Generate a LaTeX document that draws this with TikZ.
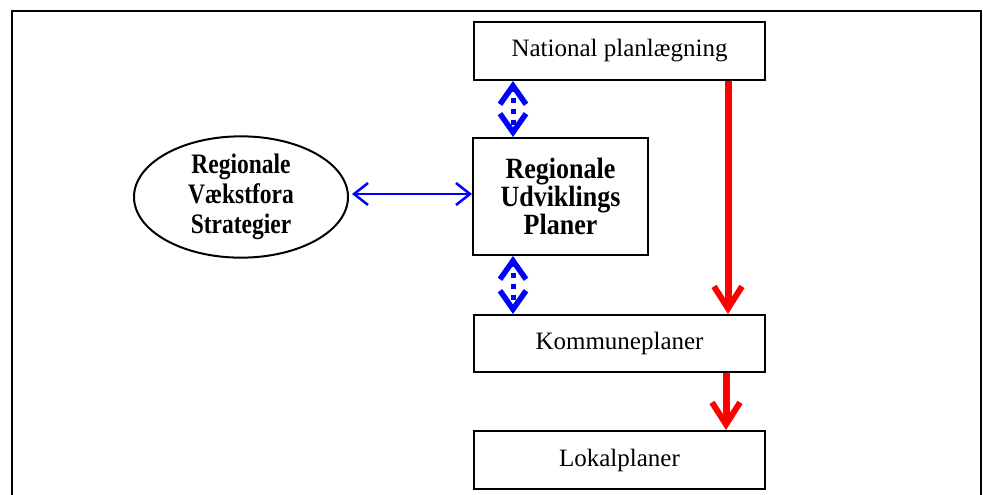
\documentclass[tikz,border=0pt]{standalone}
\usepackage{fontspec}
\setmainfont{Liberation Serif}
\usetikzlibrary{arrows.meta,shapes.geometric}
\newcommand{\tallbox}[1]{\scalebox{1}[1.13]{#1}}
\newcommand{\tallell}[1]{\scalebox{1}[1.2]{#1}}
\tikzset{
  box/.style={draw=black, line width=2pt, fill=white, inner sep=0pt, align=center,
    font=\fontsize{25}{30}\selectfont},
  bbox/.style={box, font=\fontsize{26}{28}\selectfont\bfseries},
  redarrow/.style={draw=red, line width=7pt, -{Straight Barb[length=22pt,width=28pt,line width=6pt]}},
  bluedot/.style={draw=blue, line width=5pt, dash pattern=on 5pt off 6pt, dash phase=2pt,
    {Straight Barb[length=18.5pt,width=26pt,line width=5.5pt]}-{Straight Barb[length=18.5pt,width=26pt,line width=5.5pt]}},
  bluethin/.style={draw=blue, line width=2.5pt,
    {Straight Barb[length=14pt,width=22pt,line width=2.5pt]}-{Straight Barb[length=14pt,width=22pt,line width=2.5pt]}},
}
\begin{document}
\begin{tikzpicture}[x=1pt,y=-1pt]
\useasboundingbox (0,0) rectangle (983,495);
\draw[line width=2pt] (12,497) -- (12,11) -- (981,11) -- (981,497);
\node[box, minimum width=291pt, minimum height=58pt] (nat) at (619.5,51) {National planlægning};
\node[bbox, minimum width=175pt, minimum height=117pt] (rup) at (560.5,196.5) {\tallbox{Regionale}\\\tallbox{Udviklings}\\\tallbox{Planer}};
\node[box, minimum width=291pt, minimum height=57pt] (kom) at (619.5,343.5) {Kommuneplaner};
\node[box, minimum width=291pt, minimum height=58pt] (lok) at (619.5,460) {Lokalplaner};
\node[draw, ellipse, line width=2pt, minimum width=214pt, minimum height=116pt, inner sep=0pt,
  align=center, font=\fontsize{23.5}{30}\selectfont\bfseries] (rvs) at (241,197) {\tallell{Regionale}\\\tallell{Vækstfora}\\\tallell{Strategier}};
\coordinate (r1s) at (nat.south -| 728,0);
\coordinate (r1e) at (kom.north -| 728,0);
\draw[redarrow] (r1s) -- (r1e);
\coordinate (r2s) at (kom.south -| 726,0);
\coordinate (r2e) at (lok.north -| 726,0);
\draw[redarrow] (r2s) -- (r2e);
\coordinate (b1s) at (nat.south -| 513,0);
\coordinate (b1e) at (rup.north -| 513,0);
\draw[bluedot] (b1s) -- (b1e);
\coordinate (b2s) at (rup.south -| 513,0);
\coordinate (b2e) at (kom.north -| 513,0);
\draw[bluedot] (b2s) -- (b2e);
\coordinate (h1) at (352,194);
\coordinate (h2) at (rup.west |- 0,194);
\draw[bluethin] (h1) -- (h2);
\end{tikzpicture}
\end{document}
